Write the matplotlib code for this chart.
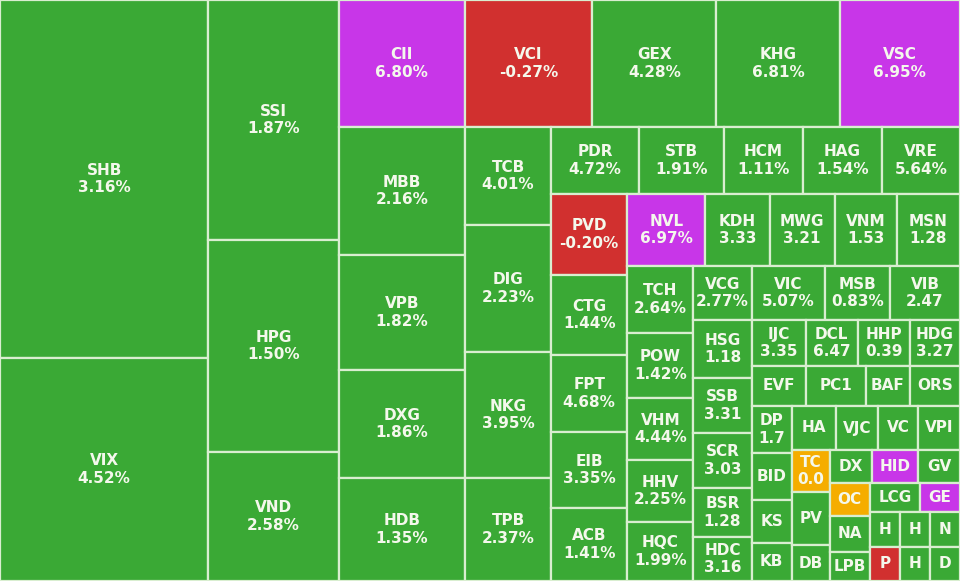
import matplotlib
matplotlib.use("Agg")
import matplotlib.pyplot as plt
from matplotlib.patches import Rectangle

tickers = ["SHB","VIX","SSI","HPG","VND","CII","MBB","VPB","DXG","HDB",
           "VCI","GEX","KHG","VSC","TCB","DIG","NKG","TPB",
           "PDR","STB","HCM","HAG","VRE","PVD","CTG","FPT","EIB","ACB",
           "NVL","KDH","MWG","VNM","MSN","TCH","POW","VHM","HHV","HQC",
           "VCG","VIC","MSB","VIB","HSG","SSB","SCR","BSR","HDC",
           "IJC","DCL","HHP","HDG","EVF","PC1","BAF","ORS",
           "DP","BID","KS","KB","HA","VJC","VC","VPI",
           "TC","PV","DB","DX","HID","GV","OC","NA","LPB",
           "LCG","GE","H","P","H","N","H","D"]
changes = ["3.16%","4.52%","1.87%","1.50%","2.58%","6.80%","2.16%","1.82%","1.86%","1.35%",
           "-0.27%","4.28%","6.81%","6.95%","4.01%","2.23%","3.95%","2.37%",
           "4.72%","1.91%","1.11%","1.54%","5.64%","-0.20%","1.44%","4.68%","3.35%","1.41%",
           "6.97%","3.33","3.21","1.53","1.28","2.64%","1.42%","4.44%","2.25%","1.99%",
           "2.77%","5.07%","0.83%","2.47","1.18","3.31","3.03","1.28","3.16",
           "3.35","6.47","0.39","3.27","","","","",
           "1.7","","","","","","","",
           "0.0","","","","","","","","",
           "","","","","","","",""]
status = ["up"]*5 + ["ceil"] + ["up"]*4 + ["down","up","up","ceil"] + ["up"]*9 + ["down"] + ["up"]*4 + \
         ["ceil"] + ["up"]*34 + ["ref","up","up","up","ceil","up","ref","up","up","up","ceil","up","down","up","up","up","up"]
sizes = [74464,46384,31200,27560,16770,16002,16128,14490,13608,12978,
         16129,15748,15621,15240,8428,10922,10836,8858,
         5896,5628,5293,5293,5226,6156,6080,5852,5776,5548,
         5616,4608,4680,4464,4536,4422,4290,4092,4092,3894,
         3132,3942,3510,3780,3364,3190,3190,2842,2552,
         2484,2392,2392,2300,2160,2400,1760,2000,
         1880,1880,1720,1520,1936,1848,1760,1848,
         1596,2014,1368,1386,1518,1386,1320,1440,1160,
         1450,1160,1050,1020,1050,1050,1020,1020]
strips = [2,3,5,4,4,5,5,5,5,4,5,4,4,4,4,3,3,3,2,2,2,1,1]

colors = {"up":"#3aa935","down":"#d1302f","ceil":"#c836e8","ref":"#f5ad00"}

W, H = 960, 581
fig = plt.figure(figsize=(9.6,5.81), dpi=100)
ax = fig.add_axes([0,0,1,1])
ax.set_xlim(0,W); ax.set_ylim(H,0); ax.axis("off")

scale = W*H/sum(sizes)
areas = [s*scale for s in sizes]
x0, y0, x1, y1 = 0.0, 0.0, float(W), float(H)
i = 0
for n in strips:
    grp = list(range(i, i+n)); i += n
    tot = sum(areas[k] for k in grp)
    w, h = x1-x0, y1-y0
    if w >= h:
        sw = tot/h; yy = y0
        for k in grp:
            hh = areas[k]/sw
            ax.add_patch(Rectangle((x0,yy),sw,hh,facecolor=colors[status[k]],edgecolor="#d9eed0",lw=1.6))
            lab = tickers[k] + ("\n"+changes[k] if changes[k] else "")
            ax.text(x0+sw/2,yy+hh/2,lab,ha="center",va="center",color="#f4f8ec",fontsize=11,fontweight="bold",linespacing=1.2)
            yy += hh
        x0 += sw
    else:
        sh = tot/w; xx = x0
        for k in grp:
            ww = areas[k]/sh
            ax.add_patch(Rectangle((xx,y0),ww,sh,facecolor=colors[status[k]],edgecolor="#d9eed0",lw=1.6))
            lab = tickers[k] + ("\n"+changes[k] if changes[k] else "")
            ax.text(xx+ww/2,y0+sh/2,lab,ha="center",va="center",color="#f4f8ec",fontsize=11,fontweight="bold",linespacing=1.2)
            xx += ww
        y0 += sh
fig.savefig("out.png", dpi=100)
